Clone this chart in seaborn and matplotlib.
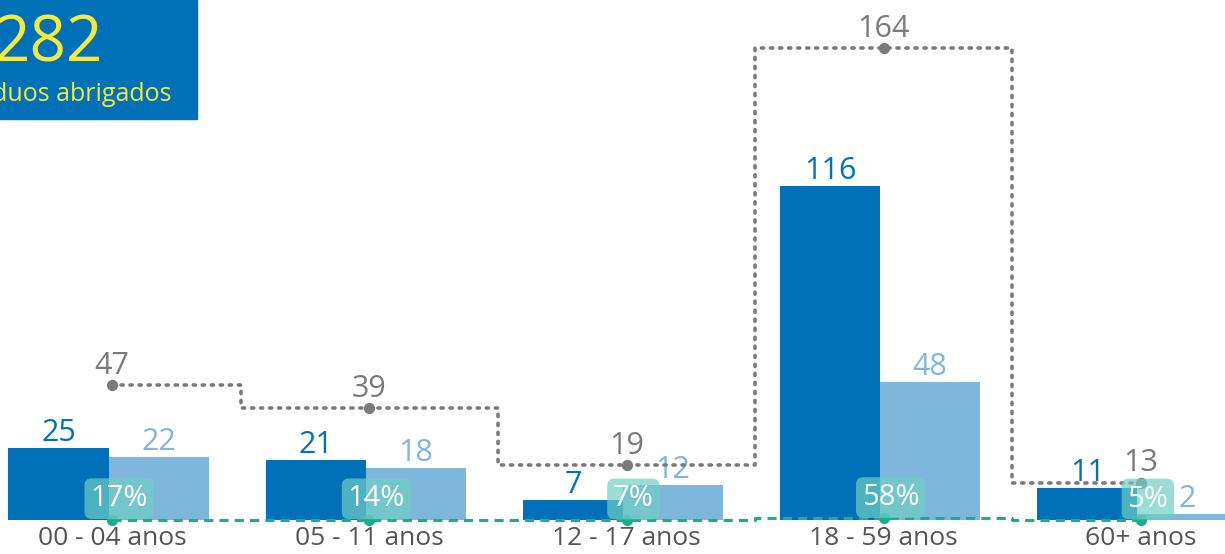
import pandas as pd
import matplotlib.pyplot as plt
import matplotlib.patches as mpatches
import seaborn as sns

# data
categorias = ['00 - 04 anos', '05 - 11 anos', '12 - 17 anos', '18 - 59 anos', '60+ anos']
homens = [25, 21, 7, 116, 11]
mulheres = [22, 18, 12, 48, 2]
totais = [47, 39, 19, 164, 13]
percentuais = [17, 14, 7, 58, 5]
total_geral = '282'
subtitulo = 'indivíduos abrigados'

AZUL = '#0070b8'
AZUL_CLARO = '#7fb6dc'
CINZA = '#7a7a7a'
VERDE = '#17b08c'
AMARELO = '#f3ea3c'

sns.set_style('white')
plt.rcParams['font.family'] = ['Open Sans', 'DejaVu Sans']

df = pd.DataFrame({
    'faixa': categorias * 2,
    'sexo': ['Homens'] * len(categorias) + ['Mulheres'] * len(categorias),
    'qtd': homens + mulheres,
})

fig = plt.figure(figsize=(12.25, 5.54), dpi=100)
ax = fig.add_axes([0, 34 / 554, 1, 520 / 554])

sns.barplot(data=df, x='faixa', y='qtd', hue='sexo', palette=[AZUL, AZUL_CLARO],
            width=0.778, gap=0, saturation=1, legend=False, linewidth=0,
            ax=ax, zorder=1)

# bars sit a hair left of the category centre in the original
for p in ax.patches:
    p.set_x(p.get_x() - 0.014)

for cont, cor in zip(ax.containers, [AZUL, AZUL_CLARO]):
    ax.bar_label(cont, color=cor, fontsize=22, padding=0)

x = list(range(len(categorias)))

# totals: dotted step line
ax.plot(x, totais, drawstyle='steps-mid', linestyle=(0, (0.6, 1.9)), color=CINZA,
        lw=2.6, dash_capstyle='round', zorder=3)
ax.scatter(x, totais, s=50, color=CINZA, zorder=4)
for xi, t in zip(x, totais):
    ax.annotate(str(t), (xi, t), xytext=(0, 3), textcoords='offset points',
                ha='center', va='bottom', color=CINZA, fontsize=22)

# percentages: dashed step line near the baseline
frac = [p / 100 for p in percentuais]
ax.plot(x, frac, drawstyle='steps-mid', linestyle=(0, (3, 2)), color=VERDE,
        lw=2.2, zorder=3, clip_on=False)
ax.scatter(x, frac, s=50, color=VERDE, zorder=4, clip_on=False)
for xi, p, f in zip(x, percentuais, frac):
    ax.annotate(f'{p}%', (xi, f), xytext=(5, 15), textcoords='offset points',
                ha='center', va='center', color='white', fontsize=21, zorder=5,
                bbox=dict(boxstyle='round,pad=0.2,rounding_size=0.25',
                          fc='#6fcfc3', ec='none', alpha=0.7))

ax.set_xlim(-0.436, 4.327)
ax.set_ylim(0, 180.7)
ax.set_xlabel('')
ax.set_ylabel('')
ax.set_yticks([])
ax.tick_params(axis='x', length=0, pad=4, labelsize=19, labelcolor='#555555')
sns.despine(ax=ax, left=True, bottom=True)

# summary box in the top-left corner
fig.patches.append(mpatches.Rectangle((0, 1 - 119 / 554), 197 / 1225, 119 / 554,
                                      transform=fig.transFigure, color=AZUL, zorder=0))
fig.text(-0.005, 1 - 61 / 554, total_geral, color=AMARELO, fontsize=46,
         ha='left', va='baseline')
fig.text(172 / 1225, 1 - 101 / 554, subtitulo, color=AMARELO, fontsize=18,
         ha='right', va='baseline')

fig.savefig('out.png', dpi=100)
